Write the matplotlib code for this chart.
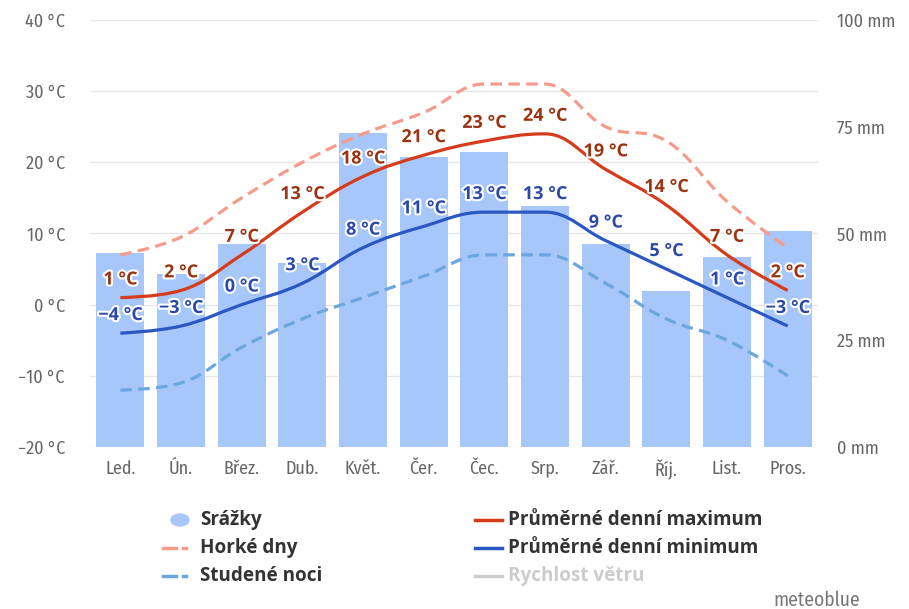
import matplotlib
matplotlib.use("Agg")
import matplotlib.pyplot as plt
import matplotlib.patheffects as pe
from matplotlib.path import Path
from matplotlib.patches import PathPatch, Circle
from matplotlib.lines import Line2D

# data
mesice = ["Led.", "Ún.", "Břez.", "Dub.", "Květ.", "Čer.", "Čec.", "Srp.", "Zář.", "Říj.", "List.", "Pros."]
srazky = [45.5, 40.5, 47.5, 43, 73.5, 68, 69, 56.5, 47.5, 36.5, 44.5, 50.5]      # mm
max_teplota = [1, 2, 7, 13, 18, 21, 23, 24, 19, 14, 7, 2]
min_teplota = [-4, -3, 0, 3, 8, 11, 13, 13, 9, 5, 1, -3]
horke_dny = [7, 9.5, 15, 20, 24, 27, 31, 31, 25, 23, 14.5, 8]
studene_noci = [-12, -11, -6, -2, 1, 4, 7, 7, 3, -2, -5, -10]

c_bar = "#a7c7fa"
c_max = "#d63c1b"
c_min = "#2a57c2"
c_hot = "#f59b8a"
c_cold = "#6ba6de"
c_lab_max = "#9a3412"
c_lab_min = "#2b49a8"
c_txt = "#666666"

cond = dict(family=["Open Sans", "DejaVu Sans"], fontstretch="condensed")
tick_font = dict(family=["Fira Sans Condensed", "DejaVu Sans"], fontweight="normal")


def spline_path(xs, ys, smoothing=1.5):
    # highcharts-like spline, drawn as bezier curves
    n = len(xs)
    lc = [None] * n
    rc = [None] * n
    for i in range(1, n - 1):
        px, py = xs[i], ys[i]
        lx, ly = xs[i - 1], ys[i - 1]
        nx, ny = xs[i + 1], ys[i + 1]
        lcx = (smoothing * px + lx) / (smoothing + 1)
        lcy = (smoothing * py + ly) / (smoothing + 1)
        rcx = (smoothing * px + nx) / (smoothing + 1)
        rcy = (smoothing * py + ny) / (smoothing + 1)
        corr = ((rcy - lcy) * (rcx - px)) / (rcx - lcx) + py - rcy
        lcy += corr
        rcy += corr
        if lcy > max(ly, py):
            lcy = max(ly, py); rcy = 2 * py - lcy
        elif lcy < min(ly, py):
            lcy = min(ly, py); rcy = 2 * py - lcy
        if rcy > max(py, ny):
            rcy = max(py, ny); lcy = 2 * py - rcy
        elif rcy < min(py, ny):
            rcy = min(py, ny); lcy = 2 * py - rcy
        lc[i] = (lcx, lcy)
        rc[i] = (rcx, rcy)
    verts = [(xs[0], ys[0])]
    codes = [Path.MOVETO]
    for i in range(1, n):
        c1 = rc[i - 1] if rc[i - 1] else (xs[i - 1], ys[i - 1])
        c2 = lc[i] if lc[i] else (xs[i], ys[i])
        verts += [c1, c2, (xs[i], ys[i])]
        codes += [Path.CURVE4] * 3
    return Path(verts, codes)


fig = plt.figure(figsize=(9.09, 6.09), dpi=100)
ax = fig.add_axes([90 / 909, 1 - 447 / 609, 728 / 909, 427 / 609])
ax2 = ax.twinx()
ax.set_zorder(ax2.get_zorder() + 1)
ax.patch.set_visible(False)

x = list(range(len(mesice)))

# precipitation bars on the right axis
ax2.bar(x, srazky, width=0.79, color=c_bar, zorder=2)
ax2.set_ylim(0, 100)
ax2.set_yticks([0, 25, 50, 75, 100])
ax2.set_yticklabels([f"{v} mm" for v in [0, 25, 50, 75, 100]], fontsize=13, color=c_txt, **tick_font)

ax.set_ylim(-20, 40)
ax.set_xlim(-0.5, 11.5)
ax.set_yticks(range(-20, 41, 10))
ax.set_yticklabels([f"{v} °C".replace("-", "−") for v in range(-20, 41, 10)], fontsize=13, color=c_txt, **tick_font)
ax.set_xticks(x)
ax.set_xticklabels(mesice, fontsize=13, color=c_txt, **tick_font)

for a in (ax, ax2):
    for s in a.spines.values():
        s.set_visible(False)
    a.tick_params(length=0)
ax.tick_params(axis="y", pad=18)
ax.tick_params(axis="x", pad=9)
ax2.tick_params(axis="y", pad=14)

# grid drawn on the bar axis so it stays behind bars
for v in range(-20, 41, 10):
    ax2.axhline((v + 20) / 60 * 100, color="#e6e6e6", lw=1, zorder=1)

ax.add_patch(PathPatch(spline_path(x, horke_dny), fill=False, ec=c_hot, lw=2.3, ls=(0, (3.6, 2))))
ax.add_patch(PathPatch(spline_path(x, studene_noci), fill=False, ec=c_cold, lw=2.3, ls=(0, (3.6, 2))))
ax.add_patch(PathPatch(spline_path(x, max_teplota), fill=False, ec=c_max, lw=2.3))
ax.add_patch(PathPatch(spline_path(x, min_teplota), fill=False, ec=c_min, lw=2.3))

stroke = [pe.withStroke(linewidth=3, foreground="white")]
for i in x:
    ax.annotate(f"{max_teplota[i]} °C", (i, max_teplota[i]), xytext=(0, 13), textcoords="offset points",
                ha="center", va="center", fontsize=13, fontweight="bold",
                color=c_lab_max, path_effects=stroke, zorder=5, **cond)
    ax.annotate(f"{min_teplota[i]} °C".replace("-", "−"), (i, min_teplota[i]), xytext=(0, 13),
                textcoords="offset points", ha="center", va="center", fontsize=13,
                fontweight="bold", color=c_lab_min, path_effects=stroke, zorder=5, **cond)


# legend drawn by hand, two columns
def fx(px):
    return px / 909


def fy(py):
    return 1 - py / 609


leg_font = dict(fontsize=13.6, fontweight="bold", color="#333333", va="center", **cond)
fig.add_artist(Circle((fx(180), fy(520)), 9 / 909, transform=fig.transFigure, color=c_bar))
fig.text(fx(200), fy(520), "Srážky", **leg_font)
for yy, col in [(548, c_hot), (576, c_cold)]:
    fig.add_artist(Line2D([fx(163), fx(176)], [fy(yy)] * 2, transform=fig.transFigure, color=col, lw=2.5))
    fig.add_artist(Line2D([fx(183), fx(186)], [fy(yy)] * 2, transform=fig.transFigure, color=col, lw=2.5))
fig.text(fx(200), fy(548), "Horké dny", **leg_font)
fig.text(fx(200), fy(576), "Studené noci", **leg_font)

for yy, col, lab, tc in [(520, c_max, "Průměrné denní maximum", "#333333"),
                         (548, c_min, "Průměrné denní minimum", "#333333"),
                         (576, "#cccccc", "Rychlost větru", "#cccccc")]:
    fig.add_artist(Line2D([fx(475), fx(502)], [fy(yy)] * 2, transform=fig.transFigure, color=col, lw=2.5))
    fig.text(fx(508), fy(yy), lab, **{**leg_font, "color": tc})

fig.text(fx(860), fy(600), "meteoblue", ha="right", va="center", fontsize=14, color="#777777", **tick_font)

fig.savefig("out.png", dpi=100, facecolor="white")
